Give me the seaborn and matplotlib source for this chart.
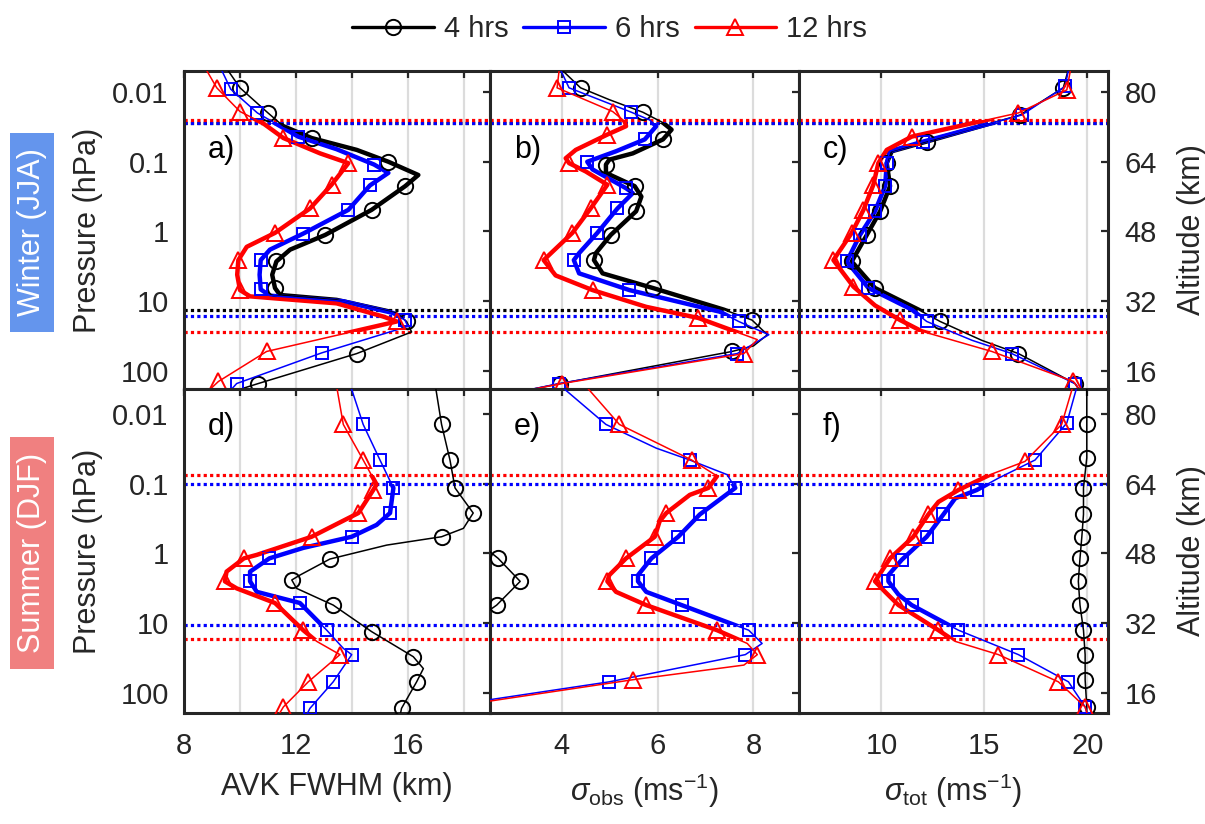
import numpy as np
import matplotlib
matplotlib.use("Agg")
import matplotlib.pyplot as plt
import matplotlib.transforms as mtransforms
from matplotlib.lines import Line2D
from matplotlib.patches import Rectangle
from matplotlib.ticker import NullLocator
import seaborn as sns

# profiles: log10(pressure / hPa), value, marker flag (1 = symbol drawn there)
# a) AVK FWHM, winter
a4_lp = [-2.35, -2.06, -1.70, -1.51, -1.34, -1.17, -1.00, -0.81, -0.65, -0.31, 0.05, 0.26, 0.43, 0.62, 0.81, 0.91, 0.98, 1.17, 1.29, 1.44, 1.75, 2.18, 2.35]
a4_v = [9.5, 10.0, 11.0, 11.55, 12.56, 14.17, 15.3, 16.37, 15.9, 14.7, 13.04, 11.79, 11.3, 11.15, 11.25, 11.43, 13.45, 15.6, 15.95, 16.13, 14.17, 10.65, 9.3]
a4_mk = [0, 1, 1, 0, 1, 0, 1, 0, 1, 1, 1, 0, 1, 0, 1, 0, 0, 0, 1, 0, 1, 1, 0]
a6_lp = [-2.35, -2.04, -1.70, -1.36, -1.18, -0.96, -0.84, -0.66, -0.31, 0.03, 0.26, 0.41, 0.62, 0.83, 0.92, 1.00, 1.17, 1.27, 1.36, 1.74, 2.18, 2.35]
a6_v = [9.3, 9.67, 10.62, 12.08, 13.45, 14.79, 15.3, 14.64, 13.87, 12.26, 11.07, 10.74, 10.7, 10.74, 11.07, 13.69, 15.48, 15.89, 16.0, 12.92, 9.88, 9.5]
a6_mk = [0, 1, 1, 1, 0, 1, 0, 1, 1, 1, 0, 1, 0, 1, 0, 0, 0, 1, 0, 1, 1, 0]
a12_lp = [-2.35, -2.06, -1.72, -1.55, -1.34, -1.12, -0.98, -0.67, -0.33, 0.02, 0.22, 0.41, 0.62, 0.84, 0.93, 1.03, 1.22, 1.29, 1.72, 2.15, 2.35]
a12_v = [8.75, 9.17, 10.0, 10.83, 11.55, 12.86, 13.87, 13.27, 12.5, 11.25, 10.24, 9.94, 9.9, 10.0, 10.36, 13.45, 15.12, 15.6, 10.95, 9.23, 8.7]
a12_mk = [0, 1, 1, 0, 1, 0, 1, 1, 1, 1, 0, 1, 0, 1, 0, 0, 0, 1, 1, 1, 0]

# b) sigma_obs, winter
b4_lp = [-2.35, -2.06, -1.89, -1.71, -1.56, -1.46, -1.32, -1.12, -1.03, -0.96, -0.84, -0.65, -0.50, -0.29, 0.05, 0.31, 0.41, 0.60, 0.81, 1.12, 1.27, 1.48, 1.64, 1.72, 2.18, 2.30]
b4_v = [3.95, 4.39, 4.99, 5.69, 6.11, 6.29, 6.11, 5.48, 4.99, 4.92, 4.92, 5.52, 5.66, 5.55, 5.02, 4.71, 4.67, 4.85, 5.90, 7.38, 7.97, 8.29, 8.0, 7.55, 3.97, 3.1]
b4_mk = [0, 1, 0, 1, 0, 0, 1, 0, 0, 1, 0, 1, 0, 1, 1, 0, 1, 0, 1, 0, 1, 0, 0, 1, 1, 0]
b6_lp = [-2.35, -2.06, -1.71, -1.60, -1.51, -1.32, -1.15, -1.00, -0.89, -0.62, -0.55, -0.33, 0.02, 0.31, 0.41, 0.60, 0.84, 1.15, 1.29, 1.48, 1.75, 2.18, 2.30]
b6_v = [3.95, 4.15, 5.45, 5.83, 5.97, 5.73, 5.13, 4.53, 4.64, 5.34, 5.48, 5.16, 4.74, 4.36, 4.25, 4.36, 5.41, 7.30, 7.69, 8.32, 7.66, 3.94, 3.1]
b6_mk = [0, 1, 1, 0, 0, 1, 0, 1, 0, 1, 0, 1, 1, 0, 1, 0, 1, 0, 1, 0, 1, 1, 0]
b12_lp = [-2.35, -2.06, -1.72, -1.58, -1.51, -1.39, -1.17, -1.05, -0.98, -0.86, -0.67, -0.33, 0.02, 0.41, 0.63, 0.84, 1.08, 1.24, 1.55, 1.75, 2.18, 2.30]
b12_v = [3.95, 3.90, 5.06, 5.31, 5.34, 4.95, 4.29, 4.08, 4.15, 4.50, 4.95, 4.60, 4.22, 3.62, 3.87, 4.64, 5.76, 6.85, 8.08, 7.80, 4.0, 3.1]
b12_mk = [0, 1, 1, 0, 0, 1, 0, 0, 1, 0, 1, 1, 1, 1, 0, 1, 0, 1, 0, 1, 1, 0]

# c) sigma_tot, winter
c4_lp = [-2.35, -2.06, -1.67, -1.29, -1.15, -0.98, -0.65, -0.29, 0.05, 0.43, 0.81, 1.12, 1.29, 1.56, 1.75, 2.18, 2.35]
c4_v = [19.1, 18.83, 16.73, 12.20, 10.50, 10.26, 10.42, 9.94, 9.29, 8.56, 9.69, 11.80, 12.85, 14.87, 16.65, 19.40, 19.8]
c4_mk = [0, 1, 1, 1, 0, 1, 1, 1, 1, 1, 1, 0, 1, 0, 1, 1, 0]
c6_lp = [-2.35, -2.08, -1.67, -1.29, -1.15, -0.98, -0.65, -0.29, 0.05, 0.43, 0.81, 1.12, 1.29, 1.56, 1.75, 2.18, 2.35]
c6_v = [19.1, 18.92, 16.81, 12.04, 10.40, 10.26, 10.18, 9.69, 8.96, 8.32, 9.37, 11.48, 12.20, 14.4, 16.33, 19.40, 19.8]
c6_mk = [0, 1, 1, 1, 0, 1, 1, 1, 1, 1, 1, 0, 1, 0, 1, 1, 0]
c12_lp = [-2.35, -2.03, -1.70, -1.36, -1.17, -0.98, -0.67, -0.31, 0.02, 0.41, 0.79, 1.06, 1.27, 1.43, 1.72, 2.15, 2.35]
c12_v = [19.2, 19.0, 16.65, 11.47, 10.26, 9.85, 9.61, 9.13, 8.56, 7.67, 8.64, 9.69, 10.91, 11.96, 15.36, 19.32, 19.8]
c12_mk = [0, 1, 1, 1, 0, 1, 1, 1, 1, 1, 1, 0, 1, 0, 1, 1, 0]

# d) AVK FWHM, summer
d4_lp = [-2.40, -1.85, -1.34, -0.94, -0.58, -0.36, -0.24, -0.12, 0.08, 0.31, 0.38, 0.50, 0.74, 1.12, 1.48, 1.65, 1.84, 2.22, 2.36]
d4_v = [16.98, 17.20, 17.50, 17.68, 18.33, 17.98, 17.20, 15.24, 13.21, 12.14, 11.85, 12.02, 13.33, 14.70, 16.19, 16.55, 16.31, 15.77, 15.7]
d4_mk = [0, 1, 1, 1, 1, 0, 1, 0, 1, 0, 1, 0, 1, 1, 1, 0, 1, 1, 0]
d6_lp = [-2.40, -1.85, -1.34, -0.99, -0.94, -0.58, -0.41, -0.24, -0.08, 0.07, 0.26, 0.40, 0.55, 0.71, 1.10, 1.36, 1.45, 1.84, 2.22, 2.36]
d6_v = [13.95, 14.40, 15.0, 15.42, 15.48, 15.36, 14.88, 13.99, 12.26, 11.05, 10.36, 10.36, 10.60, 12.14, 13.10, 13.69, 13.99, 13.33, 12.50, 12.32]
d6_mk = [0, 1, 1, 0, 1, 1, 0, 1, 0, 1, 0, 1, 0, 1, 1, 0, 1, 1, 1, 0]
d12_lp = [-2.40, -1.85, -1.34, -0.99, -0.91, -0.58, -0.24, 0.02, 0.07, 0.26, 0.40, 0.50, 0.71, 1.10, 1.26, 1.45, 1.84, 2.20, 2.36]
d12_v = [13.45, 13.69, 14.40, 14.88, 14.76, 14.23, 12.56, 10.60, 10.14, 9.52, 9.46, 9.88, 11.25, 12.26, 12.74, 13.57, 12.44, 11.55, 11.31]
d12_mk = [0, 1, 1, 0, 1, 1, 1, 0, 1, 0, 1, 0, 1, 1, 0, 1, 1, 1, 0]

# e) sigma_obs, summer
e4_lp = [-0.30, 0.07, 0.40, 0.74, 1.00]
e4_v = [2.0, 2.67, 3.13, 2.64, 2.1]
e4_mk = [0, 1, 1, 1, 0]
e6_lp = [-2.40, -1.85, -1.51, -1.34, -1.13, -0.94, -0.56, -0.24, 0.07, 0.31, 0.40, 0.55, 0.74, 1.10, 1.29, 1.45, 1.84, 2.10, 2.25]
e6_v = [3.98, 4.92, 5.97, 6.67, 7.45, 7.62, 6.88, 6.43, 5.87, 5.59, 5.59, 5.76, 6.50, 7.90, 8.18, 7.83, 4.99, 2.46, 1.5]
e6_mk = [0, 1, 0, 1, 0, 1, 1, 1, 1, 0, 1, 0, 1, 1, 0, 1, 1, 0, 0]
e12_lp = [-2.40, -1.85, -1.34, -1.11, -0.94, -0.84, -0.58, -0.46, -0.24, 0.07, 0.31, 0.40, 0.55, 0.74, 1.10, 1.29, 1.45, 1.60, 1.81, 2.12, 2.25]
e12_v = [4.5, 5.20, 6.71, 7.24, 7.06, 6.67, 6.18, 6.04, 5.94, 5.34, 4.99, 4.95, 5.13, 5.76, 7.24, 7.87, 8.08, 7.80, 5.48, 2.46, 1.5]
e12_mk = [0, 1, 1, 0, 1, 0, 1, 0, 1, 1, 0, 1, 0, 1, 1, 0, 1, 0, 1, 0, 0]

# f) sigma_tot, summer
f4_lp = [-2.40, -1.85, -1.37, -0.94, -0.56, -0.24, 0.07, 0.40, 0.74, 1.10, 1.45, 1.81, 2.20, 2.36]
f4_v = [19.97, 19.97, 19.97, 19.81, 19.81, 19.73, 19.64, 19.56, 19.64, 19.81, 19.89, 19.89, 19.97, 19.97]
f4_mk = [0, 1, 1, 1, 1, 1, 1, 1, 1, 1, 1, 1, 1, 0]
f6_lp = [-2.40, -1.87, -1.34, -1.08, -0.91, -0.79, -0.56, -0.24, 0.09, 0.31, 0.40, 0.59, 0.74, 1.10, 1.45, 1.84, 2.20, 2.36]
f6_v = [19.5, 19.0, 17.46, 15.68, 14.63, 13.58, 13.01, 12.20, 10.99, 10.34, 10.34, 10.83, 11.47, 13.74, 16.65, 19.08, 19.89, 20.05]
f6_mk = [0, 1, 1, 0, 1, 0, 1, 1, 1, 0, 1, 0, 1, 1, 1, 1, 1, 0]
f12_lp = [-2.40, -1.85, -1.32, -1.13, -0.91, -0.74, -0.56, -0.24, 0.07, 0.40, 0.55, 0.74, 1.10, 1.26, 1.45, 1.84, 2.20, 2.36]
f12_v = [19.3, 18.75, 16.97, 15.28, 13.74, 12.77, 12.28, 11.55, 10.42, 9.69, 10.18, 10.83, 12.77, 13.58, 15.68, 18.59, 19.89, 20.05]
f12_mk = [0, 1, 1, 0, 1, 0, 1, 1, 1, 1, 0, 1, 1, 0, 1, 1, 1, 0]

# pressure range (hPa) where each run is valid (thick line, dotted limits)
winter_valid = [(0.0275, 13.3), (0.0275, 16.2), (0.0251, 27.5)]
summer_valid = [None, (0.1, 10.7), (0.074, 16.8)]

series_labels = ["4 hrs", "6 hrs", "12 hrs"]
panel_letters = ["a)", "b)", "c)", "d)", "e)", "f)"]
xlabels = ["AVK FWHM (km)", r"$\sigma_{\mathrm{obs}}$ (ms$^{-1}$)", r"$\sigma_{\mathrm{tot}}$ (ms$^{-1}$)"]
pres_ticks = [0.01, 0.1, 1, 10, 100]
pres_ticklabels = ["0.01", "0.1", "1", "10", "100"]
alt_ticks = [16, 32, 48, 64, 80]

panels = [
    [[(a4_lp, a4_v, a4_mk), (a6_lp, a6_v, a6_mk), (a12_lp, a12_v, a12_mk)],
     [(b4_lp, b4_v, b4_mk), (b6_lp, b6_v, b6_mk), (b12_lp, b12_v, b12_mk)],
     [(c4_lp, c4_v, c4_mk), (c6_lp, c6_v, c6_mk), (c12_lp, c12_v, c12_mk)]],
    [[(d4_lp, d4_v, d4_mk), (d6_lp, d6_v, d6_mk), (d12_lp, d12_v, d12_mk)],
     [(e4_lp, e4_v, e4_mk), (e6_lp, e6_v, e6_mk), (e12_lp, e12_v, e12_mk)],
     [(f4_lp, f4_v, f4_mk), (f6_lp, f6_v, f6_mk), (f12_lp, f12_v, f12_mk)]],
]
valid = [winter_valid, summer_valid]

colors = ["black", "#0000ff", "#ff0000"]
markers = ["o", "s", "^"]
msizes = [11, 9, 11.5]
ink = "#262626"

sns.set_theme(style="white")
plt.rcParams["font.family"] = ["Liberation Sans", "DejaVu Sans"]
plt.rcParams["mathtext.fontset"] = "custom"
plt.rcParams["mathtext.rm"] = "Liberation Sans"
plt.rcParams["mathtext.it"] = "Liberation Sans:italic"

W, H = 1205, 824
fig = plt.figure(figsize=(W / 100, H / 100), dpi=100)

col_px = [(184, 306), (490, 309), (799, 309)]
row_px = [(71, 318), (389, 324)]
xlims = [(8, 18.93), (2.5, 8.95), (6, 21)]
ylims = [(10 ** 2.258, 10 ** -2.301), (10 ** 2.287, 10 ** -2.358)]
xticks = [[8, 10, 12, 14, 16, 18], [4, 6, 8], [10, 15, 20]]
xticklabels = [["8", "", "12", "", "16", ""], ["4", "6", "8"], ["10", "15", "20"]]
letter_y = [0.752, 0.882]


def p2z(p):
    return 48 - 16 * np.log10(np.clip(p, 1e-12, None))


def z2p(z):
    return 10 ** ((48 - np.asarray(z, dtype=float)) / 16)


for r in range(2):
    top, h = row_px[r]
    for c in range(3):
        left, w = col_px[c]
        ax = fig.add_axes([left / W, 1 - (top + h) / H, w / W, h / H])
        ax.set_yscale("log")
        ax.set_axisbelow(True)
        ax.grid(axis="x", color="#dcdcdc", lw=1.6)
        blend = mtransforms.blended_transform_factory(ax.transAxes, ax.transData)

        # dotted validity limits
        for k in range(3):
            rng = valid[r][k]
            if rng is None:
                continue
            for pv in rng:
                ax.axhline(pv, color=colors[k], ls=(0, (1, 1)), lw=2.3, zorder=1.5)

        for k, (lp, v, mk) in enumerate(panels[r][c]):
            p = 10.0 ** np.asarray(lp)
            idx = [i for i, f in enumerate(mk) if f]
            rng = valid[r][k]
            if rng is not None:
                sns.lineplot(x=v, y=p, sort=False, estimator=None, orient="y",
                             color=colors[k], lw=3.2, ax=ax, zorder=2)
                thick = ax.lines[-1]
                thick.set_clip_path(Rectangle((0, rng[0]), 1, rng[1] - rng[0], transform=blend))
            sns.lineplot(x=v, y=p, sort=False, estimator=None, orient="y",
                         color=colors[k], lw=1.1, ax=ax, zorder=3,
                         marker=markers[k], markevery=idx, ms=msizes[k],
                         mfc="none", mec=colors[k], mew=1.4)

        ax.set_xlim(*xlims[c])
        ax.set_ylim(*ylims[r])
        ax.set_xticks(xticks[c])
        ax.set_xticklabels(xticklabels[c] if r == 1 else [""] * len(xticks[c]))
        ax.set_yticks(pres_ticks)
        ax.set_yticklabels(pres_ticklabels if c == 0 else [""] * 5)
        ax.yaxis.set_minor_locator(NullLocator())
        ax.tick_params(axis="both", direction="in", length=5, width=1.6, color=ink,
                       labelcolor=ink, labelsize=21, top=True, right=True)
        ax.tick_params(axis="x", pad=14)
        ax.tick_params(axis="y", pad=11)
        for s in ax.spines.values():
            s.set_linewidth(2.2)
            s.set_color(ink)
        ax.set_xlabel("")
        ax.set_ylabel("")

        ax.text(0.078, letter_y[r], panel_letters[r * 3 + c], transform=ax.transAxes,
                ha="left", va="center", fontsize=22, color="black")

        if c == 0:
            ax.set_ylabel("Pressure (hPa)", fontsize=22, color=ink, labelpad=7)
        if r == 1:
            ax.set_xlabel(xlabels[c], fontsize=22, color=ink, labelpad=8)
        if c == 2:
            sec = ax.secondary_yaxis("right", functions=(p2z, z2p))
            sec.set_yticks(alt_ticks)
            sec.set_yticklabels([str(t) for t in alt_ticks])
            sec.yaxis.set_minor_locator(NullLocator())
            sec.tick_params(length=0, labelsize=21, labelcolor=ink, pad=12)
            sec.spines["right"].set_visible(False)
            sec.set_ylabel("Altitude (km)", fontsize=22, color=ink, labelpad=14)

# season tags
fig.add_artist(Rectangle((10 / W, 1 - 332 / H), 44 / W, 199 / H, transform=fig.transFigure,
                         facecolor="#6495ED", edgecolor="none"))
fig.text(32 / W, 1 - 232 / H, "Winter (JJA)", rotation=90, ha="center", va="center",
         color="white", fontsize=22)
fig.add_artist(Rectangle((10 / W, 1 - 669 / H), 44 / W, 232 / H, transform=fig.transFigure,
                         facecolor="#F08080", edgecolor="none"))
fig.text(32 / W, 1 - 553 / H, "Summer (DJF)", rotation=90, ha="center", va="center",
         color="white", fontsize=22)

handles = [Line2D([], [], color=colors[k], lw=2.4, marker=markers[k], ms=msizes[k],
                  mfc="none", mec=colors[k], mew=1.4) for k in range(3)]
fig.legend(handles, series_labels, loc="center", bbox_to_anchor=(0.506, 0.965), ncol=3,
           frameon=False, fontsize=21, handlelength=2.8, handletextpad=0.35,
           columnspacing=0.5, numpoints=1)

fig.savefig("out.png", dpi=100)
